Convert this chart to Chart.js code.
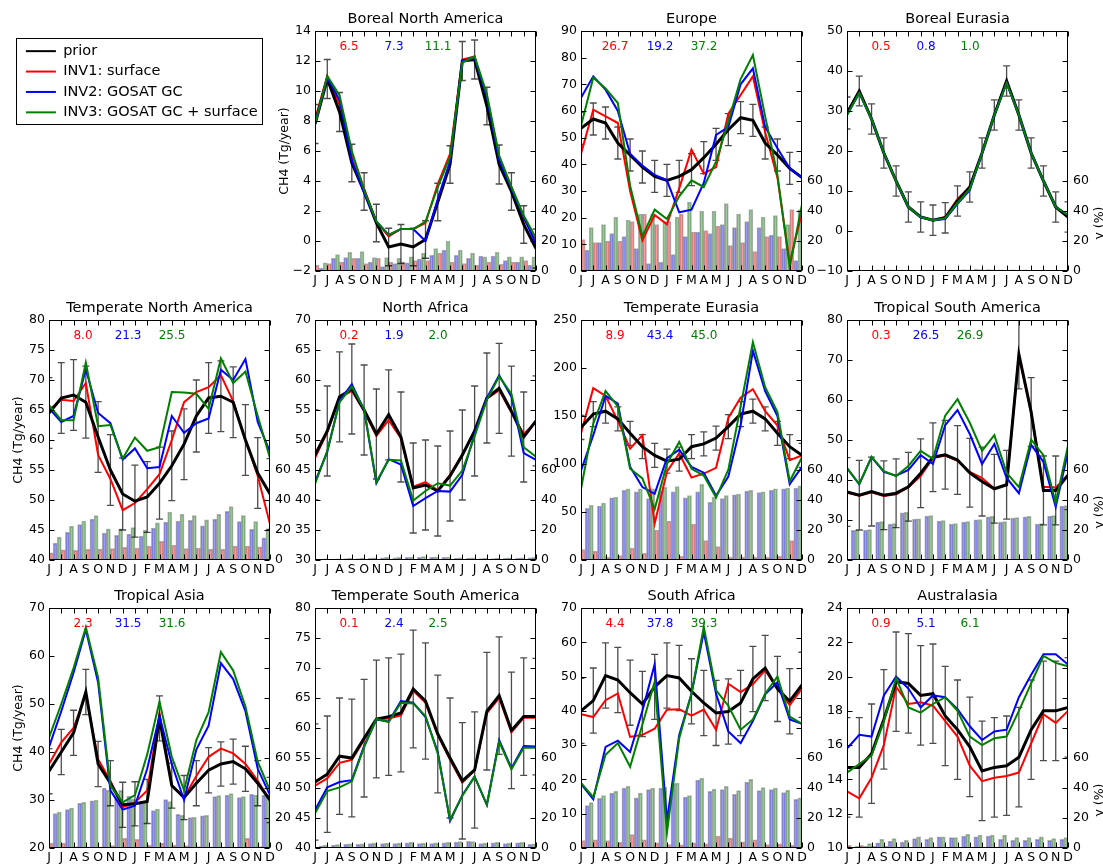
<!DOCTYPE html>
<html><head><meta charset="utf-8">
<script src="https://cdn.jsdelivr.net/npm/chart.js@4.4.1/dist/chart.umd.min.js"></script>
<style>
body{margin:0;width:1103px;height:864px;overflow:hidden;background:#fff;position:relative;}
canvas{position:absolute;}
</style></head><body>
<script>
// ---------- shared labels ----------
const months = ['J','J','A','S','O','N','D','J','F','M','A','M','J','J','A','S','O','N','D'];
const legendLabels = ['prior','INV1: surface','INV2: GOSAT GC','INV3: GOSAT GC + surface'];

// ---------- Boreal North America ----------
const bnaPrior = [7.8,10.8,8.6,5.2,3.3,1.2,-0.4,-0.2,-0.4,0.1,2.6,5.1,12.0,12.1,9.0,5.1,3.3,1.1,-0.5];
const bnaInv1  = [8.1,11.0,9.1,5.8,3.5,1.3,0.3,0.8,0.8,1.2,3.8,5.8,12.1,12.3,9.5,5.6,3.6,1.5,0.1];
const bnaInv2  = [7.8,10.9,9.4,5.4,3.2,1.3,0.4,0.8,0.8,0.0,2.8,5.3,12.0,12.2,9.6,5.4,3.5,1.6,-0.2];
const bnaInv3  = [7.8,11.0,9.7,6.0,3.4,1.3,0.4,0.8,0.8,1.3,3.6,5.6,11.9,12.3,9.8,5.7,3.6,1.7,0.2];
const bnaErr   = [1.3,1.3,1.3,1.25,1.25,1.25,1.25,1.3,1.25,1.25,1.25,1.25,1.3,1.3,1.25,1.3,1.25,1.25,1.3];
const bnaG1 = [4,5,6,8.5,5,8.5,6,6,7,7,12,6,5,4,6,4.5,6,7];
const bnaG2 = [2,8.5,9,8.5,6,3,5,5.5,8,10.5,14,10.5,8.5,10,10,7,6,4];
const bnaG3 = [5.5,11,12.5,13,9,9,8.5,9.5,12,15,20,14,12,9.5,12.5,9.5,9.5,9.5];
const bnaNums = ['6.5','7.3','11.1'];

// ---------- Europe ----------
const eurPrior = [53.5,57,55.5,48,43.5,39,35.5,34,35.5,38,42.5,47.5,53,57.5,56.5,48,43.5,38.5,35];
const eurInv1  = [44,60.5,58,55.5,30,11.5,21,17.5,31,45.5,36.5,39,59,66,73,52,35,3,22];
const eurInv2  = [65,73,68,60,44,39.5,36,34,22,23,33,51,54,70,76,54,46,38.5,35];
const eurInv3  = [54.5,72.5,68.5,63,32,13,23,19.5,28,34,31.5,41,56,72,81,58,36,1.5,25];
const eurErr   = [6,6,6,6,6,6,6,6,6,6,6,6,6,6,6,6,6,6,6];
const eurG1 = [21,19,20,20,33,38,31,33,38,26,27,30,17,19,13,23,23,41];
const eurG2 = [14,19,25,23,15,5,6,11,23,26,25,31,29,33,29,24,15,7];
const eurG3 = [29,31,36,34,38,38,33,36,46,40,40,45,38,41,36,37,31,41];
const eurNums = ['26.7','19.2','37.2'];

// ---------- Boreal Eurasia ----------
const beaPrior = [29.5,35,28,19.5,12.5,6,3.5,2.7,3.3,7.5,11,19.5,29,37.5,29,19.5,12.5,6,3.5];
const beaInv1  = [29.5,35,28,19.5,12.5,6,3.5,2.7,3.5,8,11,19.5,29,37.5,29,19.5,12.5,6,3.8];
const beaInv2  = [29,34.5,28,19.5,12.5,6,3.5,2.7,3,6.8,10.2,19.5,29,37,29,19.5,12.5,6,4];
const beaInv3  = [29,34.5,28,19.5,12.5,6,3.5,2.7,3.2,7,10.5,19.5,29,37,29,19.5,12.5,6,4];
const beaErr   = [4,3.7,3.8,3.8,3.8,3.8,3.8,3.8,3.8,3.8,3.8,3.8,3.8,3.8,3.8,3.8,3.8,3.8,3.8];
const beaG1 = [0.2,0.2,0.2,0.2,0.2,0.2,0.2,0.2,0.2,0.2,0.2,0.2,0.2,0.2,0.2,0.2,0.2,0.2];
const beaG2 = [0.4,0.6,0.8,0.8,0.6,0.6,0.5,0.5,0.7,0.9,1.1,0.9,0.7,0.7,0.7,0.6,0.5,0.5];
const beaG3 = [0.3,0.5,0.6,0.6,0.5,0.5,0.4,0.4,0.6,0.8,1.0,0.8,0.6,0.6,0.6,0.5,0.4,0.4];
const beaNums = ['0.5','0.8','1.0'];

// ---------- Temperate North America ----------
const tnaPrior = [64.5,67,67.5,66.3,60.5,55,51,49.8,50.5,52.8,55.7,59.3,64,67,67.3,66.3,60,54.5,51];
const tnaInv1  = [65,66.7,66.5,69.5,57.5,53.5,48.3,49.5,51.8,54.3,60,66.3,68,68.8,70.8,66.5,60,54,46];
const tnaInv2  = [65.3,63,64,71.8,64.5,62.8,56.7,58.6,55.3,55.5,64,61.2,62.8,63.6,71.7,70,73.5,63,58];
const tnaInv3  = [65.8,63.3,63.3,72.9,62.3,62.5,56.9,60.4,58.2,58.8,68,67.9,67.7,65.2,73.6,69.5,71.4,64,57];
const tnaErr   = [5.9,5.9,5.9,6,5.9,5.9,6,6,5.9,6,5.8,5.9,6,5.9,5.9,5.9,5.9,5.9,5.9];
const tnaG1 = [4.8,6.8,6.4,7.2,7.2,7.6,8.4,8,9.2,12.4,10,7.6,8,7.2,7.2,9.2,9.2,8.8];
const tnaG2 = [11.2,18.4,23.6,27.2,18,16.4,17.2,16,21.2,25.2,26,26.4,22.8,27.2,32.4,25.6,20.4,14.8];
const tnaG3 = [15.2,22.4,26,29.6,20.8,20.8,21.6,20,24.8,32,30.4,29.6,26.8,30.4,35.6,29.6,25.6,20.4];
const tnaNums = ['8.0','21.3','25.5'];

// ---------- North Africa ----------
const nafPrior = [47.5,51.5,57.2,58.5,55,51,54.2,50.5,42,42.5,41.5,44,47.5,51.5,57,58.6,54.8,50.5,53.2];
const nafInv1  = [47,51.3,57,58.2,54.8,50.7,53.3,50.3,42.2,43,41.6,44.2,47.6,51.4,56.9,58.3,54.6,51,53];
const nafInv2  = [43,48,56.5,59.3,55,42.8,46.8,45.9,39,40.3,41.5,41.4,44.2,51,57,60.8,57.2,47.8,46.7];
const nafInv3  = [42.7,48.2,56.3,58.9,55.1,43,46.7,46.6,39.9,41.5,42.8,42.4,44.9,50.6,56.7,60.6,57.7,48.8,47.2];
const nafErr   = [7.5,7.5,7.5,7.5,7.5,7.5,7.5,7.5,7.5,7.5,7.5,7.5,7.5,7.5,7.5,7.5,7.5,7.5,7.5];
const nafG1 = [0.2,0.2,0.2,0.2,0.2,0.2,0.2,0.2,0.2,0.2,0.2,0.2,0.2,0.2,0.2,0.2,0.2,0.2];
const nafG2 = [0.5,0.6,1.0,1.0,1.2,1.5,1.5,1.8,1.8,1.8,1.8,1.3,1.2,1.0,1.0,1.2,1.3,1.5];
const nafG3 = [0.7,0.8,1.2,1.2,1.4,1.7,1.7,2.0,2.2,2.0,2.0,1.5,1.4,1.2,1.2,1.4,1.5,1.8];
const nafNums = ['0.2','1.9','2.0'];

// ---------- Temperate Eurasia ----------
const teuPrior = [138,152,155,147,132,118,109,103,105,118,121,127,139,152,155,147,132,118,109];
const teuInv1  = [132,179,171,145,116,130,38,92,111,86,90,96,148,169,178,155,140,104,109];
const teuInv2  = [93,130,171,163,97,76,69,106,115,97,91,67,87,140,218,176,150,79,97];
const teuInv3  = [74,142,176,160,95,85,53,100,123,95,88,65,94,160,227,180,154,82,107];
const teuErr   = [12.5,13,12.5,12.5,12.5,12.5,12.5,12.5,12.5,12.5,12.5,12.5,12.5,13,12.5,12.5,12.5,12.5,12.5];
const teuG1 = [7,6,2,3,8,4.5,20,26,2.5,24,13,9,2,2,2,2,2.5,13];
const teuG2 = [34.5,36,41.5,46.5,45.5,41,46,45.5,41.5,45.5,38.5,41,43.5,46,45,46.5,47.5,48];
const teuG3 = [36.5,38,42,47.5,47.5,47.5,48.5,49,43,50.5,42,43,44,46.5,45.5,47.5,48,49.5];
const teuNums = ['8.9','43.4','45.0'];

// ---------- Tropical South America ----------
const trsaPrior = [37,36.2,37.1,36.2,36.7,38.3,41.7,45.7,46.3,45,41.8,39.6,37.8,38.8,71.4,57,37.4,37.4,41.2];
const trsaInv1  = [36.8,36.1,36.9,36,36.4,38.2,41,45.5,46.1,44.8,42,40.5,37.9,38.8,71.2,56.8,38.3,38.1,41.3];
const trsaInv2  = [43,38.9,45.7,42,41.1,42.5,46.2,44,53.7,57.5,51.5,44,49,40.5,36.7,48.8,44.5,33.3,47];
const trsaInv3  = [43,39,45.8,42.2,41,43.5,47.3,45.3,56.1,60.2,54.3,47.3,51.2,41.8,38.2,50.1,46.2,34.3,48.6];
const trsaErr   = [8.6,8.7,8.6,8.6,8.6,8.6,8.6,8.6,8.6,8.6,8.6,8.6,8.6,8.6,8.6,8.6,8.6,8.6,8.6];
const trsaG1 = [0.3,0.3,0.3,0.3,0.3,0.3,0.3,0.3,0.3,0.3,0.3,0.3,0.3,0.3,0.3,0.3,0.3,0.3];
const trsaG2 = [19.7,20,25.3,24,31.5,27.2,29.3,25.9,24,25.3,26.7,28.8,25.3,28,28.8,24,29.3,36];
const trsaG3 = [20,20.3,25.6,24.3,31.8,27.5,29.6,26.2,24.3,25.6,27,29.1,25.6,28.3,29.1,24.3,29.6,36.3];
const trsaNums = ['0.3','26.5','26.9'];

// ---------- Tropical Asia ----------
const tasPrior = [36,40,44,52.5,37.5,33.5,29,29.2,29.7,47,33,30.5,33.5,36.2,37.5,38,36.5,33.5,30];
const tasInv1  = [37.5,42,45,52,38.5,34,28.5,29.5,32,48,33,30.5,35,39,40.7,39.7,37.5,34,30];
const tasInv2  = [41,48.5,56.5,65.5,54.5,32,28,28.8,36.5,47.5,37.5,30,40.5,45.5,58.5,55.2,48.5,36.5,31];
const tasInv3  = [43,50,57.5,66,55.5,33,29.5,31,39.5,50.5,39,32,42.5,48.3,60.8,57,49.5,38,32];
const tasErr   = [4.7,4.7,4.7,4.7,4.7,4.7,4.7,4.6,4.6,4.7,4.7,4.6,4.7,4.7,4.6,4.7,4.7,4.7,4.7];
const tasG1 = [3.2,3.2,1,0.6,0.6,1.6,6.4,5.8,1.9,3.2,1.9,1.6,1,0.6,0.6,0.6,6.4,1];
const tasG2 = [23,25.6,29.8,31.4,40,34.6,34.6,30.4,25,32.3,22.4,20.2,21.4,34.2,35.2,33.6,35.8,35.2];
const tasG3 = [24,26.6,30.4,31.7,38.4,38.4,32.6,30.7,26,31,21.8,20.5,21.8,34.9,36.2,34.2,35.2,35.2];
const tasNums = ['2.3','31.5','31.6'];

// ---------- Temperate South America ----------
const tesaPrior = [51,52.3,55.3,55,58.3,61.5,61.9,62.5,66.5,64.5,59,55,51.2,53,62.8,65.4,59.6,61.9,61.9];
const tesaInv1  = [50.4,51.6,54.2,54.7,58,61.4,61.6,62.1,66.2,64.2,58.8,54.7,50.9,52.9,62.5,65,59.3,61.7,61.7];
const tesaInv2  = [46.3,50.1,51,51.3,57,61.4,61.1,64.5,64.2,61.8,56,44.5,48.8,51.9,47.2,58,53.3,57,56.9];
const tesaInv3  = [45.8,49.5,50.1,51.1,56.8,61.5,61,64.2,64.1,62,55.7,44.7,48.7,51.9,47.2,57.7,53.1,56.7,56.7];
const tesaErr   = [9.7,9.7,9.7,9.8,9.8,9.8,9.8,9.8,9.8,9.7,9.8,10,9.7,9.7,9.8,9.8,9.7,9.8,9.7];
const tesaG1 = [0.3,0.3,0.3,0.3,0.3,0.3,0.3,0.3,0.3,0.3,0.3,0.3,0.3,0.3,0.3,0.3,0.3,0.3];
const tesaG2 = [1.5,2,2.5,2.5,3,3,3,3.5,3,3,3.5,4,4.5,3,3.5,3,3.5,2.5];
const tesaG3 = [2,2.2,2.8,2.8,3.2,3.2,3.3,3.8,3.2,3.4,3.8,4.2,4.3,3.2,3.8,3.2,3.7,2.7];
const tesaNums = ['0.1','2.4','2.5'];

// ---------- South Africa ----------
const safPrior = [40,43,50.3,49,45.3,42,47,50.3,49.6,45.7,42.3,39.4,39.8,42.3,49.3,52.5,46.4,42.8,47.6];
const safInv1  = [39,38.2,43.1,45.1,32.4,33,34.8,40.3,40.5,38.6,40.4,34.5,47.9,45.5,47.8,51.8,46.5,41.7,46.5];
const safInv2  = [18.7,14.2,29.5,31.3,28,40,53.6,8,33,45,63,45,34,30.6,37,44.8,48.3,37.5,36.2];
const safInv3  = [19,14.8,27.2,30.6,23.7,36,48.5,4.5,32,45,64.5,46,41.5,34.5,37.5,45,50,38.3,36.2];
const safErr   = [9.5,9.5,9.5,9.5,9.5,9.5,9.5,9.5,9.5,9.5,9.5,9.5,9.5,9.5,9.5,9.5,9.5,9.5,9.5];
const safG1 = [5,5.5,5,3.7,8.9,5.5,3.4,2.3,2.1,3.4,2.7,8,6.6,4.1,5.5,2.3,2.7,1.8];
const safG2 = [28.3,33.1,36.6,40,33.4,38.9,40,43,34,45.3,37.7,38.9,35.7,43.9,38.2,38.9,37,32.5];
const safG3 = [30.2,35,37.7,41.1,36.6,40,40.5,43.2,35,46.4,39.3,41.1,38.2,45.7,40.2,40,38.4,33.4];
const safNums = ['4.4','37.8','39.3'];

// ---------- Australasia ----------
const ausPrior = [14.7,14.7,15.5,17.5,19.7,19.6,18.9,19,17.7,16.9,15.9,14.5,14.7,14.8,15.3,16.9,18,18,18.2];
const ausInv1  = [13.3,12.9,14.1,16,19.4,18.4,18.5,18.3,17.4,16.5,14.8,13.9,14.1,14.2,14.4,16.1,17.8,17.3,18];
const ausInv2  = [15.8,16.6,16.5,18.9,20,19.3,18.2,18.9,18.8,18.1,17.1,16.3,16.8,16.9,18.8,20.1,21.3,21.3,20.7];
const ausInv3  = [14.4,14.9,15.4,17.4,19.9,18.2,17.9,18.4,18.8,18,16.5,16,16.4,16.5,18,19.6,21.2,20.8,20.6];
const ausErr   = [2.9,2.9,2.9,2.9,2.9,2.9,2.9,2.9,2.9,2.9,2.9,2.9,2.9,2.9,2.9,2.9,2.9,2.9,2.9];
const ausG1 = [1.7,1.7,1.1,1.1,0.6,0.3,0.3,0.3,0.3,0.3,0.3,0.3,0.3,0.3,0.3,0.3,0.3,0.3];
const ausG2 = [0.6,1.1,3.4,4.6,4,6.3,5.7,7.4,6.9,8,7.4,8,5.7,5.1,5.1,5.7,5.1,5.7];
const ausG3 = [1.1,2.9,5.7,6.3,5.1,7.4,6.9,7.4,6.9,9.1,8.6,8.6,8.6,6.9,6.9,7.4,6.3,6.9];
const ausNums = ['0.9','5.1','6.1'];

// ---------- panels ----------
const panels = [
 {title:'Boreal North America', col:1,row:0, ymin:-2,ymax:14,step:2, prior:bnaPrior,inv:[bnaInv1,bnaInv2,bnaInv3],err:bnaErr,g:[bnaG1,bnaG2,bnaG3],nums:bnaNums, ylab:true, glab:false},
 {title:'Europe', col:2,row:0, ymin:0,ymax:90,step:10, prior:eurPrior,inv:[eurInv1,eurInv2,eurInv3],err:eurErr,g:[eurG1,eurG2,eurG3],nums:eurNums},
 {title:'Boreal Eurasia', col:3,row:0, ymin:-10,ymax:50,step:10, prior:beaPrior,inv:[beaInv1,beaInv2,beaInv3],err:beaErr,g:[beaG1,beaG2,beaG3],nums:beaNums, glab:true},
 {title:'Temperate North America', col:0,row:1, ymin:40,ymax:80,step:5, prior:tnaPrior,inv:[tnaInv1,tnaInv2,tnaInv3],err:tnaErr,g:[tnaG1,tnaG2,tnaG3],nums:tnaNums, ylab:true},
 {title:'North Africa', col:1,row:1, ymin:30,ymax:70,step:5, prior:nafPrior,inv:[nafInv1,nafInv2,nafInv3],err:nafErr,g:[nafG1,nafG2,nafG3],nums:nafNums},
 {title:'Temperate Eurasia', col:2,row:1, ymin:0,ymax:250,step:50, prior:teuPrior,inv:[teuInv1,teuInv2,teuInv3],err:teuErr,g:[teuG1,teuG2,teuG3],nums:teuNums},
 {title:'Tropical South America', col:3,row:1, ymin:20,ymax:80,step:10, prior:trsaPrior,inv:[trsaInv1,trsaInv2,trsaInv3],err:trsaErr,g:[trsaG1,trsaG2,trsaG3],nums:trsaNums, glab:true},
 {title:'Tropical Asia', col:0,row:2, ymin:20,ymax:70,step:10, prior:tasPrior,inv:[tasInv1,tasInv2,tasInv3],err:tasErr,g:[tasG1,tasG2,tasG3],nums:tasNums, ylab:true},
 {title:'Temperate South America', col:1,row:2, ymin:40,ymax:80,step:5, prior:tesaPrior,inv:[tesaInv1,tesaInv2,tesaInv3],err:tesaErr,g:[tesaG1,tesaG2,tesaG3],nums:tesaNums},
 {title:'South Africa', col:2,row:2, ymin:0,ymax:70,step:10, prior:safPrior,inv:[safInv1,safInv2,safInv3],err:safErr,g:[safG1,safG2,safG3],nums:safNums},
 {title:'Australasia', col:3,row:2, ymin:10,ymax:24,step:2, prior:ausPrior,inv:[ausInv1,ausInv2,ausInv3],err:ausErr,g:[ausG1,ausG2,ausG3],nums:ausNums, glab:true}
];

// ---------- layout & style ----------
const PW = 221, PH = 240, L = 50, R = 40, T = 26, B = 20;
const colLeft = [49, 315, 581, 847];
const rowTop = [31, 320, 608];
const lineColors = ['#000000','#ff0000','#0000ff','#008000'];
const lineOrder = [3, 4, 2, 1];
const barColors = ['rgba(255,0,0,0.4)','rgba(0,0,255,0.4)','rgba(0,128,0,0.4)'];
const FONT = "'DejaVu Sans'";
Chart.defaults.font.family = FONT;
Chart.defaults.color = '#000';

function fmt(v){ return v < 0 ? '\u2212' + Math.abs(v) : String(v); }

function makeDecor(p){
  return {
    id: 'decor',
    beforeDatasetDraw(chart, args){
      if (args.index !== 4) return; // just before the first line (INV1) is drawn
      const {ctx, chartArea:a} = chart;
      const xs = chart.scales.x, ys = chart.scales.y;
      ctx.save();
      ctx.beginPath(); ctx.rect(a.left, a.top, a.right - a.left, a.bottom - a.top); ctx.clip();
      ctx.strokeStyle = 'rgba(0,0,0,0.7)';
      ctx.lineWidth = 1.3;
      p.prior.forEach((v, i) => {
        const px = xs.getPixelForValue(i);
        const y1 = ys.getPixelForValue(v - p.err[i]);
        const y2 = ys.getPixelForValue(v + p.err[i]);
        ctx.beginPath();
        ctx.moveTo(px, y1); ctx.lineTo(px, y2);
        ctx.moveTo(px - 3.5, y1); ctx.lineTo(px + 3.5, y1);
        ctx.moveTo(px - 3.5, y2); ctx.lineTo(px + 3.5, y2);
        ctx.stroke();
      });
      ctx.restore();
    },
    afterDraw(chart){
      const {ctx, chartArea:a} = chart;
      const xs = chart.scales.x, ys = chart.scales.y, y2 = chart.scales.y2;
      const l = Math.round(a.left) + 0.5, r = Math.round(a.right) - 0.5;
      const t = Math.round(a.top) + 0.5, b = Math.round(a.bottom) - 0.5;
      ctx.save();
      ctx.strokeStyle = '#000'; ctx.lineWidth = 1;
      ctx.strokeRect(l, t, r - l, b - t);
      ctx.beginPath();
      xs.ticks.forEach(tk => { const px = Math.round(xs.getPixelForValue(tk.value)) + 0.5;
        ctx.moveTo(px, b); ctx.lineTo(px, b - 5); ctx.moveTo(px, t); ctx.lineTo(px, t + 5); });
      ys.ticks.forEach(tk => { const py = Math.round(ys.getPixelForValue(tk.value)) + 0.5;
        ctx.moveTo(l, py); ctx.lineTo(l + 5, py); });
      y2.ticks.forEach(tk => { const py = Math.round(y2.getPixelForValue(tk.value)) + 0.5;
        ctx.moveTo(r, py); ctx.lineTo(r - 5, py); });
      ctx.stroke();
      // improvement numbers
      ctx.font = '12px ' + FONT;
      ctx.textAlign = 'center'; ctx.textBaseline = 'middle';
      const offs = [34, 79, 123];
      p.nums.forEach((s, k) => { ctx.fillStyle = lineColors[k + 1]; ctx.fillText(s, a.left + offs[k], a.top + 16); });
      if (p.glab) {
        ctx.fillStyle = '#000';
        ctx.font = '12.5px ' + FONT;
        ctx.translate(a.right + 32, y2.getPixelForValue(32));
        ctx.rotate(-Math.PI / 2);
        ctx.fillText('\u03b3 (%)', 0, 0);
      }
      ctx.restore();
    }
  };
}

panels.forEach(p => {
  const cv = document.createElement('canvas');
  const W = L + PW + R, H = T + PH + B;
  cv.width = W; cv.height = H;
  cv.style.left = (colLeft[p.col] - L) + 'px';
  cv.style.top = (rowTop[p.row] - T) + 'px';
  cv.style.width = W + 'px'; cv.style.height = H + 'px';
  document.body.appendChild(cv);
  const datasets = [];
  p.g.forEach((arr, k) => datasets.push({
    type: 'bar', label: legendLabels[k + 1] + ' \u03b3',
    data: arr.map((v, i) => ({x: i + 0.5, y: v})),
    backgroundColor: barColors[k], borderColor: 'rgba(0,0,0,0.3)', borderWidth: 1,
    borderSkipped: 'start',
    yAxisID: 'y2', xAxisID: 'x', barPercentage: 1, categoryPercentage: 1, order: 10
  }));
  [p.prior].concat(p.inv).forEach((arr, k) => datasets.push({
    type: 'line', label: legendLabels[k],
    data: arr.map((v, i) => ({x: i, y: v})),
    borderColor: lineColors[k], backgroundColor: lineColors[k],
    borderWidth: k === 0 ? 3 : 2, pointRadius: 0, tension: 0, fill: false,
    yAxisID: 'y', xAxisID: 'x', order: lineOrder[k]
  }));
  new Chart(cv, {
    type: 'line',
    data: {datasets},
    options: {
      responsive: false, animation: false, devicePixelRatio: 1,
      layout: {padding: 0},
      plugins: {
        legend: {display: false}, tooltip: {enabled: false},
        title: {display: true, text: p.title, fullSize: false, font: {size: 14.5, weight: 'normal'}, color: '#000', padding: {top: 6, bottom: 2.6}}
      },
      scales: {
        x: {type: 'linear', position: 'bottom', min: 0, max: 18, offset: false,
            grid: {display: false, drawTicks: false}, border: {display: false},
            ticks: {stepSize: 1, autoSkip: false, maxRotation: 0, minRotation: 0, padding: 2,
                    font: {size: 12.5}, color: '#000', callback: v => months[Math.round(v)]},
            afterFit: s => { s.height = B; }},
        y: {type: 'linear', position: 'left', min: p.ymin, max: p.ymax,
            grid: {display: false, drawTicks: false}, border: {display: false},
            ticks: {stepSize: p.step, padding: 4, font: {size: 12.5}, color: '#000', callback: v => fmt(v)},
            title: {display: !!p.ylab, text: 'CH4 (Tg/year)', font: {size: 12.5}, color: '#000', padding: {top: 12, bottom: 0}},
            afterFit: s => { s.width = L; }},
        y2: {type: 'linear', position: 'right', min: 0, max: 160,
            grid: {display: false, drawTicks: false}, border: {display: false},
            ticks: {stepSize: 20, padding: 5, font: {size: 12.5}, color: '#000', callback: v => v <= 60 ? String(v) : ''},
            afterFit: s => { s.width = R; }}
      }
    },
    plugins: [makeDecor(p)]
  });
});

// ---------- legend ----------
(function(){
  const cv = document.createElement('canvas');
  cv.width = 248; cv.height = 100;
  cv.style.left = '16px'; cv.style.top = '38px';
  cv.style.width = '248px'; cv.style.height = '100px';
  document.body.appendChild(cv);
  const frame = {id: 'frame', afterDraw(chart){ const c = chart.ctx; c.save(); c.strokeStyle = '#000'; c.lineWidth = 1; c.strokeRect(0.5, 0.5, 246, 86); c.restore(); }};
  new Chart(cv, {
    type: 'line',
    data: {datasets: legendLabels.map((lab, k) => ({label: lab, data: [], borderColor: lineColors[k], backgroundColor: lineColors[k], borderWidth: 2}))},
    options: {
      responsive: false, animation: false, devicePixelRatio: 1,
      layout: {padding: {left: 4, top: 0, right: 0, bottom: 0}},
      scales: {x: {display: false}, y: {display: false}},
      plugins: {
        tooltip: {enabled: false},
        legend: {display: true, position: 'left', align: 'start', maxWidth: 248,
          labels: {boxWidth: 30, boxHeight: 2, padding: 5.9, color: '#000', font: {size: 14.5},
            generateLabels: chart => chart.data.datasets.map((d, i) => ({text: d.label, fillStyle: d.borderColor, strokeStyle: d.borderColor, lineWidth: 0, datasetIndex: i, hidden: false}))}}
      }
    },
    plugins: [frame]
  });
})();
</script>
</body></html>
